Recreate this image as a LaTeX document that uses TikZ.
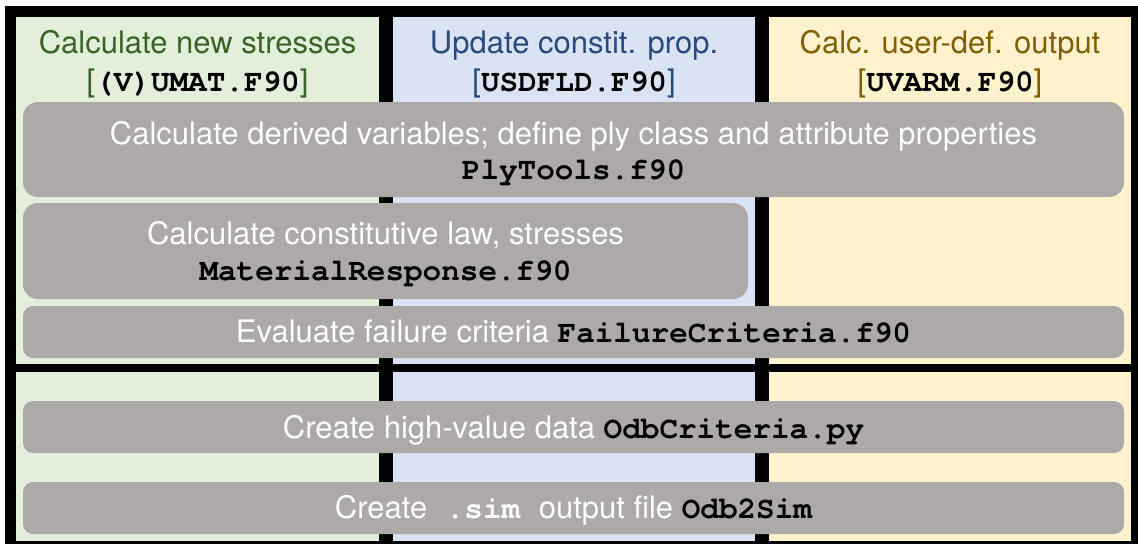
\documentclass[tikz,border=0pt]{standalone}
\usepackage{fontspec}
\setmainfont{TeX Gyre Heros}
\setmonofont{texgyrecursor}[Extension=.otf, UprightFont=*-regular, BoldFont=*-bold]
\definecolor{bggreen}{HTML}{E2EFDA}
\definecolor{bgblue}{HTML}{DAE3F3}
\definecolor{bgyellow}{HTML}{FFF2CC}
\definecolor{hgreen}{HTML}{3B6325}
\definecolor{hblue}{HTML}{2A4A7E}
\definecolor{hgold}{HTML}{7F6000}
\definecolor{boxgray}{HTML}{ADA9A8}
\newcommand\mytt[1]{{\ttfamily\bfseries #1}}
\tikzset{
  graybox/.style={fill=boxgray, draw=none, rounded corners=12pt, inner sep=0pt, outer sep=0pt},
  txt/.style={anchor=base, inner sep=0pt, font=\fontsize{31}{36}\selectfont},
  wtxt/.style={txt, text=white},
}
\begin{document}
\begin{tikzpicture}[x=1pt,y=-1pt]
\useasboundingbox (0,0) rectangle (1138,544);
\fill[white] (0,0) rectangle (1138,544);
% column backgrounds
\fill[bggreen] (16,17) rectangle (386,541);
\fill[bgblue] (386,17) rectangle (762,541);
\fill[bgyellow] (762,17) rectangle (1131,541);
% frame lines
\fill[black] (5,6) rectangle (1138,17);
\fill[black] (5,6) rectangle (16,544);
\fill[black] (1131,6) rectangle (1138,544);
\fill[black] (5,541) rectangle (1138,544);
\fill[black] (379,6) rectangle (393,544);
\fill[black] (755,6) rectangle (769,544);
\fill[black] (5,364) rectangle (1138,372);
% headers
\node[txt, text=hgreen] (h1a) at (197.5,53) {Calculate new stresses};
\node[txt, text=hgreen] (h1b) at (197.5,91) {[\textcolor{black}{\mytt{(V)UMAT.F90}}]};
\node[txt, text=hblue] (h2a) at (574,53) {Update constit. prop.};
\node[txt, text=hblue] (h2b) at (574,91) {[\textcolor{black}{\mytt{USDFLD.F90}}]};
\node[txt, text=hgold] (h3a) at (950,53) {Calc. user-def. output};
\node[txt, text=hgold] (h3b) at (950,91) {[\textcolor{black}{\mytt{UVARM.F90}}]};
% gray boxes
\node[graybox, minimum width=1101pt, minimum height=95pt, rounded corners=15pt] (b1) at (573.5,149.5) {};
\node[graybox, minimum width=725pt, minimum height=96pt, rounded corners=15pt] (b2) at (385.5,251) {};
\node[graybox, minimum width=1101pt, minimum height=52pt, rounded corners=10pt] (b3) at (573.5,332) {};
\node[graybox, minimum width=1101pt, minimum height=52pt, rounded corners=10pt] (b4) at (573.5,427) {};
\node[graybox, minimum width=1101pt, minimum height=52pt, rounded corners=10pt] (b5) at (573.5,508) {};
% box texts
\node[wtxt] (t1a) at (573.5,144) {Calculate derived variables; define ply class and attribute properties};
\node[txt] (t1b) at (573.5,179) {\mytt{PlyTools.f90}};
\node[wtxt] (t2a) at (385.5,244) {Calculate constitutive law, stresses};
\node[txt] (t2b) at (385.5,280) {\mytt{MaterialResponse.f90}};
\node[wtxt] (t3) at (573.5,342) {Evaluate failure criteria \textcolor{black}{\mytt{FailureCriteria.f90}}};
\node[wtxt] (t4) at (573.5,438) {Create high-value data \textcolor{black}{\mytt{OdbCriteria.py}}};
\node[wtxt] (t5) at (573.5,518) {Create\mytt{\ .sim\ }output file \textcolor{black}{\mytt{Odb2Sim}}};
\end{tikzpicture}
\end{document}
